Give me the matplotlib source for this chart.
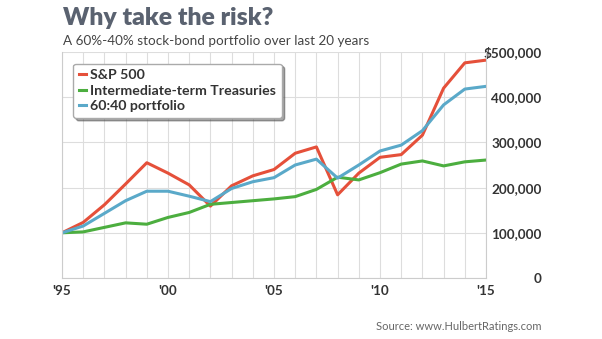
import matplotlib.pyplot as plt
from matplotlib.ticker import FuncFormatter

# yearly portfolio values, $100,000 invested at end of 1995
years = list(range(1995, 2016))
sp500 = [100000, 123000, 162000, 208000, 255000, 232000, 206000, 159000, 204000, 226000,
         240000, 276000, 290000, 184000, 232000, 267000, 273000, 316000, 420000, 476000, 482000]
treasuries = [100000, 102000, 112000, 122000, 119000, 134000, 145000, 163000, 167000, 171000,
              175000, 180000, 196000, 223000, 217000, 233000, 252000, 259000, 248000, 257000, 261000]
portfolio = [100000, 115000, 143000, 171000, 192000, 192000, 181000, 169000, 198000, 213000,
             222000, 250000, 263000, 221000, 250000, 281000, 294000, 326000, 383000, 418000, 424000]

xticks = [1995, 2000, 2005, 2010, 2015]
xlabels = ["'95", "'00", "'05", "'10", "'15"]
yticks = [0, 100000, 200000, 300000, 400000, 500000]

plt.rcParams['font.family'] = ['Lato', 'DejaVu Sans']

fig = plt.figure(figsize=(6.02, 3.39), dpi=100)
ax = fig.add_axes([62 / 602, 1 - 278 / 339, 424 / 602, 226 / 339])

ax.plot(years, sp500, color='#e5503a', lw=2.2, label='S&P 500')
ax.plot(years, treasuries, color='#4cae3f', lw=2.2, label='Intermediate-term Treasuries')
ax.plot(years, portfolio, color='#5aa9c9', lw=2.2, label='60:40 portfolio')

ax.set_xlim(1995, 2015)
ax.set_ylim(0, 500000)
ax.set_xticks(years, minor=True)
ax.set_xticks(xticks)
ax.set_xticklabels(xlabels)
ax.set_yticks(yticks)


def money(v, pos):
    if v == 0:
        return '0'
    if v == 500000:
        return '${:,.0f}'.format(v)
    return '{:,.0f}'.format(v)


ax.yaxis.set_major_formatter(FuncFormatter(money))
ax.yaxis.tick_right()
ax.tick_params(axis='y', length=0, pad=40, labelsize=9.7, labelcolor='#333333')
ax.tick_params(axis='x', length=0, pad=5, labelsize=9.7, labelcolor='#333333')
ax.tick_params(which='minor', length=0)
for lab in ax.get_yticklabels():
    lab.set_ha('right')
    lab.set_fontweight('bold')
for lab in ax.get_xticklabels():
    lab.set_fontweight('bold')

ax.grid(True, which='both', color='#dddddd', lw=0.8)
ax.spines['top'].set_visible(False)
for side in ['left', 'right', 'bottom']:
    ax.spines[side].set_color('#cccccc')

leg = ax.legend(loc='upper left', bbox_to_anchor=(0.01, 0.98), handlelength=0.5,
                handletextpad=0.3, labelspacing=0.25, fancybox=True, shadow=True,
                framealpha=1, edgecolor='#aaaaaa', prop={'weight': 'bold', 'size': 10.2})
for t in leg.get_texts():
    t.set_color('#333333')

fig.text(63 / 602, 1 - 18 / 339, 'Why take the risk?', fontsize=17.8, fontweight='heavy',
         color='#5a6270', va='center', ha='left')
fig.text(63 / 602, 1 - 41 / 339, 'A 60%-40% stock-bond portfolio over last 20 years',
         fontsize=9.7, color='#444444', va='center', ha='left')
fig.text(541 / 602, 1 - 326 / 339, 'Source: www.HulbertRatings.com', fontsize=8,
         color='#666666', va='center', ha='right')

fig.savefig('out.png', dpi=100)
